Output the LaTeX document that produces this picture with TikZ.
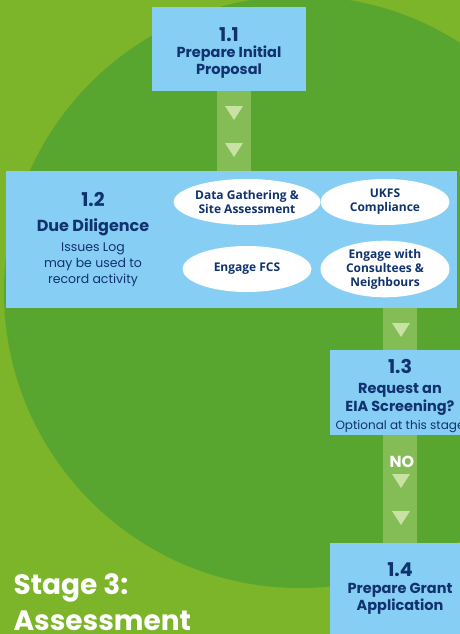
\documentclass[tikz,border=0pt]{standalone}
\usepackage{fontspec}
\setmainfont{Poppins}
\newfontfamily\ovalfont{Open Sans}
\usetikzlibrary{shapes.geometric}
\definecolor{lightgrass}{RGB}{124, 180, 42}
\definecolor{darkgrass}{RGB}{88, 166, 48}
\definecolor{boxblue}{RGB}{135, 206, 245}
\definecolor{inkblue}{RGB}{16, 50, 110}
\definecolor{bandgreen}{RGB}{132, 188, 86}
\definecolor{tipgreen}{RGB}{200, 226, 164}
\newcommand{\flowtri}[2]{
    \pgfmathsetmacro{\tx}{#1}
    \pgfmathsetmacro{\ty}{#2}
    \fill[tipgreen] (\tx-9, \ty-7) -- (\tx+9, \ty-7) -- (\tx, \ty+7) -- cycle;
}
% #1 extra height above the number, #2 the number
\newcommand{\stepnum}[2]{{\rule{0pt}{#1}\bfseries\fontsize{19}{18}\selectfont #2}}
\newcommand{\steptitle}[1]{{\bfseries\fontsize{14.5}{16.5}\selectfont #1}}

\begin{document}
\begin{tikzpicture}[x=1pt, y=-1pt,
        stepbox/.style={rectangle, fill=boxblue, inner sep=0pt, align=center, text=inkblue,
            font=\fontsize{14.5}{16.5}\selectfont},
        oval/.style={ellipse, fill=white, minimum width=129pt, minimum height=46pt, inner sep=0pt,
            align=center, text=inkblue, font=\ovalfont\bfseries\fontsize{12}{14}\selectfont},
        band/.style={line width=34pt, draw=bandgreen}
    ]
    \useasboundingbox (0, 0) rectangle (460, 634);
    \clip (0, 0) rectangle (460, 634);
    \fill[lightgrass] (0, 0) rectangle (460, 634);
    \fill[darkgrass] (300, 292) circle (296pt);

    \node[stepbox, minimum width=154pt, minimum height=84pt] (b11) at (229, 49)
    {\stepnum{21pt}{1.1}\\[0pt] \steptitle{Prepare Initial}\\ \steptitle{Proposal}};
    \node[stepbox, minimum width=451pt, minimum height=137pt] (b12) at (231.5, 239.5) {};
    \node[stepbox, minimum width=140pt, minimum height=85pt, font=\fontsize{12}{18}\selectfont]
    (b13) at (400, 392.5)
    {\stepnum{21.5pt}{1.3}\\[2pt] \steptitle{Request an}\\ \steptitle{EIA Screening?}\\[0pt]
    Optional at this stage};
    \node[stepbox, minimum width=140pt, minimum height=91pt] (b14) at (400, 588.5)
    {\stepnum{11pt}{1.4}\\[0.5pt] \steptitle{Prepare Grant}\\ \steptitle{Application}};

    % due diligence text and activities
    \node[align=center, text=inkblue, font=\fontsize{12.5}{16}\selectfont] (t12) at (93, 240)
    {\stepnum{10pt}{1.2}\\[9pt] {\bfseries\fontsize{16}{18}\selectfont Due Diligence}\\[4pt]
    Issues Log\\ may be used to\\ record activity};
    \node[oval] (gather) at (247, 202) {Data Gathering \&\\Site Assessment};
    \node[oval] (ukfs) at (385, 202) {UKFS\\Compliance};
    \node[oval] (fcs) at (247, 269) {Engage FCS};
    \node[oval] (consult) at (385, 269) {Engage with\\Consultees \&\\Neighbours};

    \draw[band] ([xshift=5pt]b11.south) -- ([xshift=5pt]b11.south |- b12.north);
    \draw[band] (b13.north |- b12.south) -- (b13.north);
    \draw[band] (b13.south) -- (b14.north);

    \flowtri{234}{113}
    \flowtri{234}{150}
    \flowtri{401}{330}
    \flowtri{401}{481}
    \flowtri{401}{518}
    \node[text=white, font=\bfseries\fontsize{16}{17}\selectfont] (no) at (402, 462) {NO};

    \node[anchor=base west, align=left, text=white, font=\bfseries\fontsize{28}{36}\selectfont]
    (stage) at (10, 630) {Stage 3:\\Assessment};
\end{tikzpicture}
\end{document}
